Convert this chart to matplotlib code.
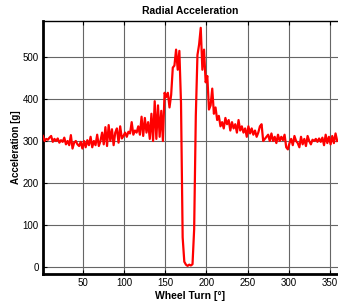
import numpy as np
import matplotlib
matplotlib.use("Agg")
import matplotlib.pyplot as plt

plt.rcParams['font.family'] = ['Liberation Sans', 'DejaVu Sans']

angle = list(range(1, 361, 2))
accel = [
    # 1-49
    312, 300, 305, 303, 308, 312, 298, 305, 300, 306, 296, 302, 298, 308, 292,
    300, 290, 314, 282, 296, 300, 292, 288, 298, 282,
    # 51-99
    300, 285, 302, 290, 310, 285, 300, 290, 315, 288, 300, 320, 292, 333, 288,
    338, 300, 328, 290, 320, 330, 296, 335, 306, 312,
    # 101-149
    320, 310, 322, 318, 345, 315, 325, 320, 335, 315, 358, 312, 355, 320, 345,
    305, 365, 300, 395, 305, 385, 310, 372, 300, 415,
    # 151-169
    405, 415, 380, 410, 475, 480, 518, 470, 515, 390,
    # 171-189
    70, 12, 5, 2, 5, 3, 6, 90, 360, 505,
    # 191-249
    530, 570, 470, 518, 440, 455, 375, 385, 425, 365, 380, 350, 360, 335, 345,
    330, 355, 340, 350, 325, 345, 330, 340, 320, 350, 325, 335, 320, 330, 310,
    # 251-299
    335, 318, 330, 315, 325, 310, 320, 335, 340, 300, 305, 310, 315, 300, 318,
    300, 310, 295, 315, 300, 310, 302, 315, 285, 280,
    # 301-359
    295, 305, 290, 312, 300, 295, 285, 310, 292, 305, 288, 312, 300, 292, 303,
    300, 305, 298, 306, 298, 308, 290, 315, 295, 310, 292, 312, 295, 318, 300,
]

fig = plt.figure(figsize=(3.38, 3.06), dpi=100)
ax = fig.add_axes([0.127, 0.105, 0.873, 0.826])
ax.plot(angle, accel, color='#ff0000', lw=1.6, zorder=3)

ax.set_xlim(1, 360)
ax.set_ylim(-17, 586)
ax.set_xticks([50, 100, 150, 200, 250, 300, 350])
ax.set_yticks([0, 100, 200, 300, 400, 500])
ax.grid(True, color='#666666', lw=0.8)
ax.tick_params(direction='in', length=3, labelsize=7, top=True, right=False, pad=3)
for s in ['left', 'bottom']:
    ax.spines[s].set_linewidth(2.0)
ax.spines['top'].set_linewidth(1.0)
ax.spines['right'].set_visible(False)

ax.set_title('Radial Acceleration', fontsize=7.5, fontweight='bold', pad=5)
ax.set_xlabel('Wheel Turn [°]', fontsize=7.5, fontweight='bold', labelpad=2)
ax.set_ylabel('Acceleration [g]', fontsize=7, fontweight='bold', labelpad=1.5)

fig.savefig('out.png', dpi=100)
